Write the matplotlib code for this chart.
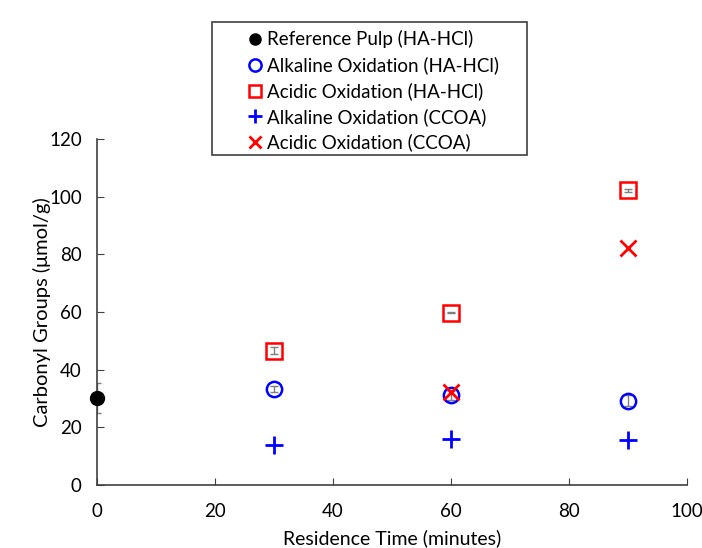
#!/usr/bin/env python3

import matplotlib
matplotlib.use('Agg')
import matplotlib.pyplot as plt
from matplotlib.patches import Rectangle

# residence time (minutes)
ref_time = [0]
ref_val = [30.1]
ref_err = [5.2]

ox_time = [30, 60, 90]
alk_hahcl = [33.2, 31.1, 29.2]
alk_hahcl_err = [1.0, 1.5, 1.9]
acid_hahcl = [46.6, 59.8, 102.2]
acid_hahcl_err = [1.2, 0.2, 0.6]
alk_ccoa = [13.9, 16.1, 15.6]
acid_ccoa = [None, 32.3, 82.1]

LABELS = ['Reference Pulp (HA-HCl)', 'Alkaline Oxidation (HA-HCl)', 'Acidic Oxidation (HA-HCl)',
          'Alkaline Oxidation (CCOA)', 'Acidic Oxidation (CCOA)']

plt.rcParams['font.family'] = ['Lato', 'DejaVu Sans']
plt.rcParams['font.size'] = 13

W, H = 702, 548
fig = plt.figure(figsize=(W / 100, H / 100), dpi=100)
ax = fig.add_axes([97 / W, 1 - 485 / H, 590 / W, 346 / H])

err_kw = dict(ecolor='#7f7f7f', elinewidth=1, capsize=3, capthick=1, linestyle='none')

ax.errorbar(ref_time, ref_val, yerr=ref_err, **err_kw, zorder=2)
ax.errorbar(ox_time, alk_hahcl, yerr=alk_hahcl_err, **err_kw, zorder=2)
ax.errorbar(ox_time, acid_hahcl, yerr=acid_hahcl_err, **err_kw, zorder=2)

h1, = ax.plot(ref_time, ref_val, 'o', color='black', ms=10, linestyle='none', clip_on=False, zorder=4)
h2, = ax.plot(ox_time, alk_hahcl, 'o', mfc='none', mec='blue', mew=1.8, ms=11, linestyle='none', zorder=3)
h3, = ax.plot(ox_time, acid_hahcl, 's', mfc='none', mec='red', mew=1.8, ms=11.5, linestyle='none', zorder=3)
h4, = ax.plot(ox_time, alk_ccoa, '+', color='blue', mew=2, ms=13, linestyle='none', zorder=3)
acc_t = [t for t, v in zip(ox_time, acid_ccoa) if v is not None]
acc_v = [v for v in acid_ccoa if v is not None]
h5, = ax.plot(acc_t, acc_v, 'x', color='red', mew=2, ms=11, linestyle='none', zorder=3)

ax.set_xlim(0, 100)
ax.set_ylim(0, 120)
ax.set_xticks(range(0, 101, 20))
ax.set_yticks(range(0, 121, 20))
ax.tick_params(direction='in', length=5, color='#404040', labelsize=13.5, pad=11)
ax.tick_params(axis='x', pad=13)
for s in ['top', 'right']:
    ax.spines[s].set_visible(False)
for s in ['left', 'bottom']:
    ax.spines[s].set_color('#404040')
    ax.spines[s].set_linewidth(1.2)

ax.set_xlabel('Residence Time (minutes)', fontsize=14)
ax.set_ylabel('Carbonyl Groups (\u03bcmol/g)', fontsize=14.5)
ax.xaxis.set_label_coords(0.5, (485 - 529) / 346)
ax.yaxis.set_label_coords((51 - 97) / 590, 0.5)

# legend box drawn separately so it can be wider than its contents
fig.patches.append(Rectangle((212 / W, 1 - 155 / H), 315 / W, 133 / H, transform=fig.transFigure,
                             facecolor='white', edgecolor='#404040', linewidth=1.2, zorder=5))
leg = fig.legend([h1, h2, h3, h4, h5], LABELS, loc='upper left',
                 bbox_to_anchor=(212 / W, 1 - 22 / H), fontsize=13.5,
                 frameon=False, borderpad=0.45, handlelength=3.7, handletextpad=-1.2,
                 labelspacing=0.42, borderaxespad=0, markerscale=0.8)
leg.set_zorder(6)

fig.savefig('out.png', dpi=100)
